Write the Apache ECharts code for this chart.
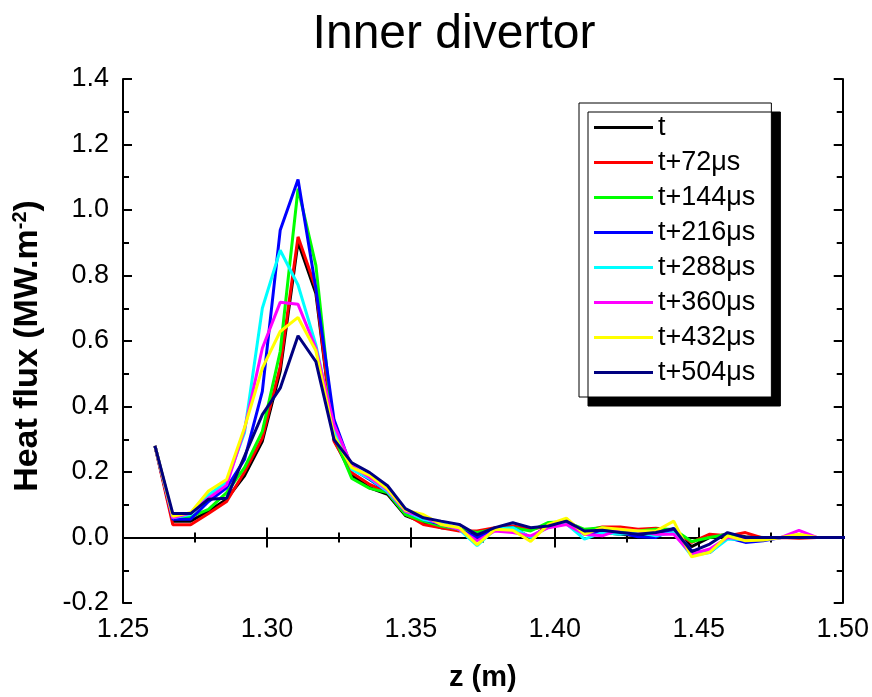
<!DOCTYPE html>
<html>
<head>
<meta charset="utf-8">
<script src="https://cdn.jsdelivr.net/npm/echarts@6/dist/echarts.min.js"></script>
<style>
html,body{margin:0;padding:0;background:#fff;}
#chart{width:872px;height:697px;}
</style>
</head>
<body>
<div id="chart"></div>
<script>
// z positions (m)
var zValues = [1.2611,1.2673,1.2735,1.2797,1.2860,1.2922,1.2984,1.3046,1.3108,1.3170,
  1.3233,1.3295,1.3357,1.3419,1.3481,1.3543,1.3605,1.3668,1.3730,1.3792,
  1.3854,1.3916,1.3978,1.4040,1.4103,1.4165,1.4227,1.4289,1.4351,1.4413,
  1.4475,1.4538,1.4600,1.4662,1.4724,1.4786,1.4848,1.4910,1.4973,1.5035];

var seriesNames = ['t','t+72\u03bcs','t+144\u03bcs','t+216\u03bcs','t+288\u03bcs','t+360\u03bcs','t+432\u03bcs','t+504\u03bcs'];

var fluxT = [0.28,0.05,0.05,0.08,0.117,0.188,0.294,0.507,0.902,0.745,
  0.299,0.19,0.152,0.132,0.067,0.046,0.03,0.025,0.01,0.025,
  0.025,0.0,0.035,0.05,0.015,0.015,0.01,0.005,0.015,0.022,
  -0.028,0.0,0.01,0.002,0.0,0.0,0.0,0,0,0];
var flux72 = [0.28,0.039,0.039,0.073,0.11,0.2,0.304,0.522,0.918,0.76,
  0.294,0.198,0.162,0.137,0.072,0.04,0.03,0.02,0.02,0.03,
  0.035,0.025,0.035,0.05,0.02,0.032,0.032,0.025,0.028,0.022,
  -0.015,0.01,0.005,0.015,-0.002,0,-0.002,0,0,0];
var flux144 = [0.28,0.063,0.063,0.086,0.137,0.213,0.324,0.568,1.065,0.831,
  0.31,0.18,0.15,0.137,0.07,0.05,0.035,0.025,0.015,0.025,
  0.03,0.02,0.046,0.048,0.025,0.03,0.02,0.02,0.025,0.025,
  -0.012,0.0,0.01,0.0,-0.002,0,0.005,0,0,0];
var flux216 = [0.28,0.056,0.056,0.11,0.152,0.238,0.446,0.938,1.093,0.76,
  0.36,0.21,0.177,0.14,0.08,0.055,0.04,0.025,0.0,0.025,
  0.03,0.0,0.035,0.045,0.01,0.015,0.015,0.002,0.0,0.028,
  -0.04,-0.046,0.0,-0.015,-0.01,0,0,0,0,0];
var flux288 = [0.28,0.06,0.07,0.13,0.17,0.32,0.70,0.877,0.771,0.588,
  0.33,0.208,0.18,0.14,0.08,0.055,0.045,0.025,-0.025,0.025,
  0.03,0.0,0.032,0.042,-0.005,0.015,0.01,0.015,0.005,0.015,
  -0.056,-0.046,-0.005,-0.005,-0.005,0,0.005,0,0,0];
var flux360 = [0.28,0.06,0.075,0.12,0.16,0.33,0.578,0.718,0.712,0.578,
  0.345,0.218,0.183,0.145,0.08,0.062,0.04,0.025,-0.01,0.02,
  0.015,0.005,0.03,0.04,0.01,0.005,0.025,0.02,0.01,0.01,
  -0.05,-0.035,0.0,-0.005,-0.005,0,0.022,0,0,0];
var flux432 = [0.28,0.065,0.076,0.142,0.177,0.335,0.517,0.629,0.672,0.57,
  0.31,0.213,0.19,0.148,0.083,0.07,0.04,0.03,-0.022,0.025,
  0.022,-0.012,0.04,0.059,0.01,0.03,0.025,0.02,0.02,0.05,
  -0.059,-0.045,0.005,-0.01,-0.008,0,0.01,0,0,0];
var flux504 = [0.28,0.073,0.073,0.117,0.12,0.248,0.375,0.456,0.616,0.537,
  0.299,0.228,0.198,0.158,0.088,0.06,0.05,0.04,0.008,0.03,
  0.045,0.03,0.035,0.05,0.02,0.022,0.015,0.01,0.015,0.027,
  -0.043,-0.02,0.015,0.0,0.0,0,0,0,0,0];

var seriesColors = ['#000000','#ff0000','#00ff00','#0000ff','#00ffff','#ff00ff','#ffff00','#000080'];
var allFlux = [fluxT, flux72, flux144, flux216, flux288, flux360, flux432, flux504];

var FONT = '"Liberation Sans", Arial, sans-serif';

function pairs(ys){ return ys.map(function(v,i){ return [zValues[i], v]; }); }

var series = allFlux.map(function(ys, k){
  return {
    name: seriesNames[k], type: 'line', data: pairs(ys),
    symbol: 'none', showSymbol: false, clip: true,
    lineStyle: { color: seriesColors[k], width: 3 },
    itemStyle: { color: seriesColors[k] },
    xAxisIndex: 0, yAxisIndex: 0, z: 2 + k
  };
});

var axisLineStyle = { show: true, lineStyle: { color: '#000', width: 2 } };

var chart = echarts.init(document.getElementById('chart'), null, { renderer: 'canvas' });
chart.setOption({
  animation: false,
  backgroundColor: '#fff',
  title: {
    text: 'Inner divertor', left: 449, top: 6, textAlign: 'center',
    textStyle: { fontFamily: FONT, fontSize: 48, fontWeight: 'normal', color: '#000' }
  },
  grid: { left: 123, right: 29, top: 79, bottom: 92 },
  legend: {
    orient: 'vertical', left: 579, top: 103,
    backgroundColor: '#fff', borderColor: '#000', borderWidth: 1,
    shadowColor: '#000', shadowOffsetX: 9, shadowOffsetY: 9, shadowBlur: 0.01,
    padding: [11, 16, 11, 15], itemWidth: 59, itemHeight: 3, itemGap: 8,
    icon: 'rect',
    textStyle: { fontFamily: FONT, fontSize: 27, color: '#000' },
    data: seriesNames
  },
  xAxis: [{
    type: 'value', min: 1.25, max: 1.5, interval: 0.05, position: 'bottom',
    name: 'z (m)', nameLocation: 'middle', nameGap: 60,
    nameTextStyle: { fontFamily: FONT, fontSize: 29, fontWeight: 'bold', color: '#000' },
    axisLine: axisLineStyle,
    axisTick: { show: true, inside: true, length: 10, lineStyle: { color: '#000', width: 2 } },
    minorTick: { show: true, splitNumber: 2, length: 5, lineStyle: { color: '#000', width: 2 } },
    splitLine: { show: false },
    axisLabel: { margin: 13, fontFamily: FONT, fontSize: 27, color: '#000',
      formatter: function(v){ return v.toFixed(2); } }
  }, {
    type: 'value', min: 1.25, max: 1.5, interval: 0.05, position: 'top',
    axisLine: axisLineStyle,
    axisTick: { show: true, inside: true, length: 10, lineStyle: { color: '#000', width: 2 } },
    minorTick: { show: true, splitNumber: 2, length: 5, lineStyle: { color: '#000', width: 2 } },
    splitLine: { show: false }, axisLabel: { show: false }
  }],
  yAxis: [{
    type: 'value', min: -0.2, max: 1.4, interval: 0.2, position: 'left',
    name: 'Heat flux (MW.m{sup|-2})', nameLocation: 'middle', nameGap: 77, nameRotate: 90,
    nameTextStyle: { fontFamily: FONT, fontSize: 34, fontWeight: 'bold', color: '#000', padding: [0, 10, 0, 0],
      rich: { sup: { fontFamily: FONT, fontSize: 20, fontWeight: 'bold', color: '#000', verticalAlign: 'top', padding: [0, 0, 16, 0] } } },
    axisLine: axisLineStyle,
    axisTick: { show: true, inside: true, length: 9, lineStyle: { color: '#000', width: 2 } },
    minorTick: { show: true, splitNumber: 2, length: 6, lineStyle: { color: '#000', width: 2 } },
    splitLine: { show: false },
    axisLabel: { margin: 14, fontFamily: FONT, fontSize: 27, color: '#000',
      formatter: function(v){ return v.toFixed(1); } }
  }, {
    type: 'value', min: -0.2, max: 1.4, interval: 0.2, position: 'right',
    axisLine: axisLineStyle,
    axisTick: { show: true, inside: true, length: 9, lineStyle: { color: '#000', width: 2 } },
    minorTick: { show: true, splitNumber: 2, length: 6, lineStyle: { color: '#000', width: 2 } },
    splitLine: { show: false }, axisLabel: { show: false }
  }],
  series: series
});
</script>
</body>
</html>
